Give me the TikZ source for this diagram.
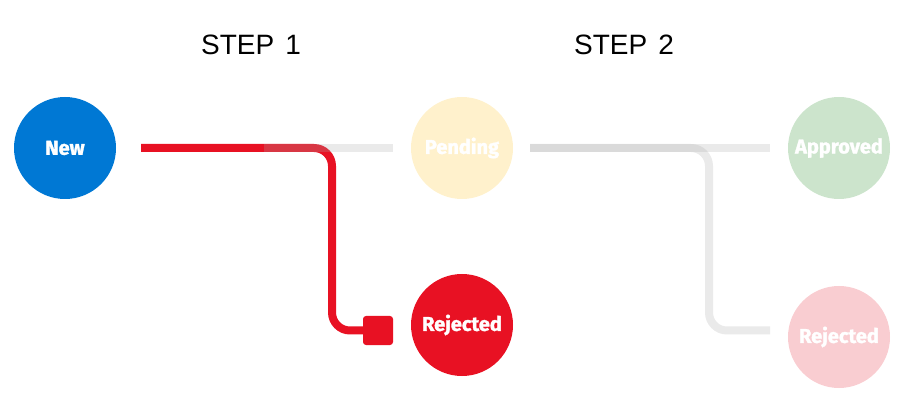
\documentclass[tikz,border=0pt]{standalone}
\usepackage{fontspec}
\setmainfont{Liberation Sans}
\newfontfamily\lblfont{Fira Sans}[BoldFeatures={FakeBold=1.6}]
\definecolor{msblue}{HTML}{0078D4}
\definecolor{msred}{HTML}{E81123}
\definecolor{pendc}{HTML}{FFF1CC}
\definecolor{apprc}{HTML}{CCE4CC}
\definecolor{rejlc}{HTML}{F9CDD1}
\definecolor{linegray}{HTML}{AAAAAA}
\begin{document}
\begin{tikzpicture}[x=1pt,y=-1pt,
  state/.style={circle,minimum size=102pt,inner sep=0pt,text=white,
    font=\lblfont\bfseries\fontsize{20}{20}\selectfont},
  redline/.style={draw=msred,line width=8pt,rounded corners=18pt},
  grayline/.style={draw=linegray,draw opacity=0.25,line width=8pt,rounded corners=18pt},
  endsq/.style={rectangle,fill=msred,rounded corners=3pt,minimum width=30pt,minimum height=29pt,inner sep=0pt},
  steplbl/.style={font=\fontsize{28}{28}\selectfont,text=black,inner sep=0pt}]
\useasboundingbox (0,0) rectangle (903,406);
\node[steplbl] (step1) at (251,45) {STEP\hspace{11pt}1};
\node[steplbl] (step2) at (624,45) {STEP\hspace{11pt}2};
\node[state,fill=msblue] (new) at (65,148) {New};
\node[state,fill=pendc] (pend) at (462,148) {Pending};
\node[state,fill=msred] (rej1) at (462,325) {Rejected};
\node[state,fill=apprc] (appr) at (839,148) {Approved};
\node[state,fill=rejlc] (rej2) at (839,337) {Rejected};
\node[endsq] (sq) at (378,330.5) {};
\coordinate (a1) at (141,148);
\coordinate (a2) at (264,148);
\coordinate (a3) at (393,148);
\coordinate (c1) at (332,148);
\coordinate (c2) at (332,330.5);
\coordinate (b1) at (530,148);
\coordinate (b2) at (770,148);
\coordinate (d1) at (709,148);
\coordinate (d2) at (709,330.5);
\coordinate (b3) at (770,330.5);
\draw[redline] (a1) -- (c1) -- (c2) -- (sq.west);
\draw[grayline] (a2) -- (a3);
\draw[grayline] (b1) -- (b2);
\draw[grayline] (b1) -- (d1) -- (d2) -- (b3);
\end{tikzpicture}
\end{document}
